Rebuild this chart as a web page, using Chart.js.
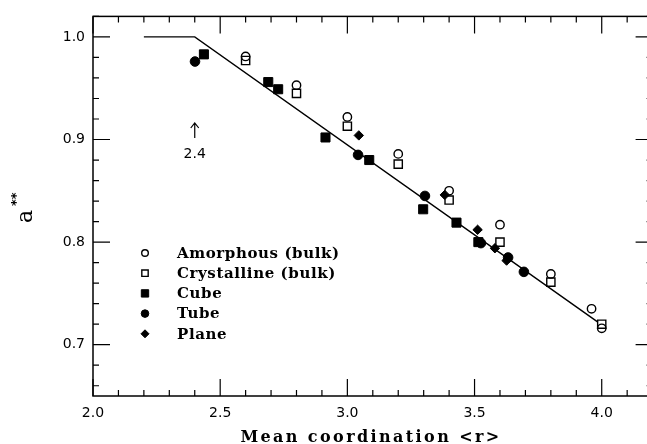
<!DOCTYPE html>
<html>
<head>
<meta charset="utf-8">
<script src="https://cdn.jsdelivr.net/npm/chart.js@4.4.0/dist/chart.umd.min.js"></script>
<style>
  html, body { margin: 0; padding: 0; background: #fff; overflow: hidden; }
  #wrap { width: 660px; height: 444px; position: relative; }
</style>
</head>
<body>
<div id="wrap"><canvas id="grafico"></canvas></div>
<script>
// data
const amorfoX = [2.6, 2.8, 3.0, 3.2, 3.4, 3.6, 3.8, 3.96, 4.0];
const amorfoY = [0.981, 0.953, 0.922, 0.886, 0.850, 0.817, 0.769, 0.735, 0.716];

const cristalX = [2.6, 2.8, 3.0, 3.2, 3.4, 3.6, 3.8, 4.0];
const cristalY = [0.977, 0.945, 0.913, 0.876, 0.841, 0.800, 0.761, 0.720];

const cuboX = [2.436, 2.689, 2.728, 2.914, 3.086, 3.298, 3.429, 3.515];
const cuboY = [0.983, 0.956, 0.949, 0.902, 0.880, 0.832, 0.819, 0.800];

const tuboX = [2.401, 3.042, 3.305, 3.525, 3.632, 3.694];
const tuboY = [0.976, 0.885, 0.845, 0.799, 0.785, 0.771];

const planoX = [3.045, 3.383, 3.512, 3.580, 3.626];
const planoY = [0.904, 0.846, 0.812, 0.794, 0.782];

// theory line
const retaX = [2.2, 2.4, 3.985];
const retaY = [1.0, 1.0, 0.722];

const xTicks = [2.0, 2.5, 3.0, 3.5, 4.0];
const yTicks = [0.7, 0.8, 0.9, 1.0];

const pares = (xs, ys) => xs.map((v, i) => ({ x: v, y: ys[i] }));

// legendR = smaller symbol used in the key
const estilos = [
    { label: "Amorphous (bulk)", pointStyle: "circle", pointRadius: 4.2, legendR: 3.3, backgroundColor: "rgba(0,0,0,0)", borderWidth: 1.4 },
    { label: "Crystalline (bulk)", pointStyle: "rect", pointRadius: 5.8, legendR: 4.5, backgroundColor: "rgba(0,0,0,0)", borderWidth: 1.4 },
    { label: "Cube", pointStyle: "rect", pointRadius: 6.4, legendR: 5.2, backgroundColor: "#000", borderWidth: 1 },
    { label: "Tube", pointStyle: "circle", pointRadius: 4.8, legendR: 3.8, backgroundColor: "#000", borderWidth: 1 },
    { label: "Plane", pointStyle: "rectRot", pointRadius: 4.7, legendR: 4, backgroundColor: "#000", borderWidth: 1 }
];
const series = [pares(amorfoX, amorfoY), pares(cristalX, cristalY), pares(cuboX, cuboY), pares(tuboX, tuboY), pares(planoX, planoY)];

const fixaTicks = lista => scale => { scale.ticks = lista.map(v => ({ value: v })); };

// frame, inward ticks, titles, legend, 2.4 marker
const decoracao = {
    id: "decoracao",
    afterDraw(chart) {
        const { ctx, chartArea: a, scales: { x, y } } = chart;
        ctx.save();
        ctx.strokeStyle = "#000";
        ctx.fillStyle = "#000";
        ctx.lineWidth = 1.5;
        ctx.strokeRect(a.left, a.top, a.right - a.left, a.bottom - a.top);

        ctx.lineWidth = 1.2;
        ctx.beginPath();
        for (let i = 20; i <= 42; i++) {
            const p = x.getPixelForValue(i / 10);
            const len = i % 5 === 0 ? 17 : 6;
            ctx.moveTo(p, a.bottom); ctx.lineTo(p, a.bottom - len);
            ctx.moveTo(p, a.top); ctx.lineTo(p, a.top + len);
        }
        for (let i = 33; i <= 51; i++) {
            const p = y.getPixelForValue(i / 50);
            const len = i % 5 === 0 ? 17 : 6;
            ctx.moveTo(a.left, p); ctx.lineTo(a.left + len, p);
            ctx.moveTo(a.right, p); ctx.lineTo(a.right - len, p);
        }
        ctx.stroke();

        // marker at 2.4
        const px = x.getPixelForValue(2.4);
        ctx.beginPath();
        ctx.moveTo(px, 138); ctx.lineTo(px, 123);
        ctx.moveTo(px - 4, 128); ctx.lineTo(px, 123); ctx.lineTo(px + 4, 128);
        ctx.stroke();
        ctx.font = "14px 'DejaVu Sans'";
        ctx.textAlign = "center";
        ctx.textBaseline = "middle";
        ctx.fillText("2.4", px, 154);

        // x title
        ctx.font = "bold 16px 'DejaVu Serif'";
        ctx.letterSpacing = "2.4px";
        ctx.textBaseline = "alphabetic";
        ctx.fillText("Mean coordination <r>", 371, 442);
        ctx.letterSpacing = "0px";

        // y title a**
        ctx.save();
        ctx.translate(32, 223);
        ctx.rotate(-Math.PI / 2);
        ctx.textAlign = "left";
        ctx.font = "22px 'DejaVu Serif'";
        ctx.fillText("a", 0, 0);
        ctx.font = "bold 13px 'DejaVu Sans'";
        ctx.fillText("**", 17, -12);
        ctx.restore();

        // legend
        ctx.font = "bold 15px 'DejaVu Serif'";
        ctx.letterSpacing = "0.6px";
        ctx.textAlign = "left";
        ctx.textBaseline = "middle";
        estilos.forEach((e, i) => {
            const yy = 253 + i * 20.2;
            ctx.lineWidth = e.borderWidth;
            ctx.fillStyle = e.backgroundColor;
            Chart.helpers.drawPoint(ctx, { pointStyle: e.pointStyle, radius: e.legendR, rotation: 0, borderWidth: e.borderWidth }, 145, yy);
            ctx.fillStyle = "#000";
            ctx.fillText(e.label, 177, yy + 1);
        });
        ctx.restore();
    }
};

new Chart(document.getElementById("grafico"), {
    type: "scatter",
    data: {
        datasets: [
            {
                type: "line",
                data: pares(retaX, retaY),
                borderColor: "#000",
                borderWidth: 1.4,
                pointRadius: 0,
                fill: false,
                tension: 0
            },
            ...estilos.map((e, i) => ({
                label: e.label,
                data: series[i],
                pointStyle: e.pointStyle,
                pointRadius: e.pointRadius,
                pointHoverRadius: e.pointRadius,
                backgroundColor: e.backgroundColor,
                borderColor: "#000",
                borderWidth: e.borderWidth
            }))
        ]
    },
    options: {
        responsive: true,
        maintainAspectRatio: false,
        animation: false,
        devicePixelRatio: 1,
        layout: { padding: { left: 0, top: 15, right: 7, bottom: 0 } },
        plugins: { legend: { display: false }, tooltip: { enabled: false } },
        scales: {
            x: {
                type: "linear",
                min: 2.0,
                max: 4.2,
                afterBuildTicks: fixaTicks(xTicks),
                afterFit: s => { s.height = 48; },
                grid: { display: false, drawTicks: false },
                border: { display: false },
                ticks: {
                    padding: 9,
                    color: "#000",
                    font: { family: "'DejaVu Sans'", size: 14 },
                    maxRotation: 0,
                    callback: v => v.toFixed(1)
                }
            },
            y: {
                type: "linear",
                min: 0.65,
                max: 1.02,
                afterBuildTicks: fixaTicks(yTicks),
                afterFit: s => { s.width = 93; },
                grid: { display: false, drawTicks: false },
                border: { display: false },
                ticks: {
                    padding: 8,
                    color: "#000",
                    font: { family: "'DejaVu Sans'", size: 14 },
                    callback: v => v.toFixed(1)
                }
            }
        }
    },
    plugins: [decoracao]
});
</script>
</body>
</html>
